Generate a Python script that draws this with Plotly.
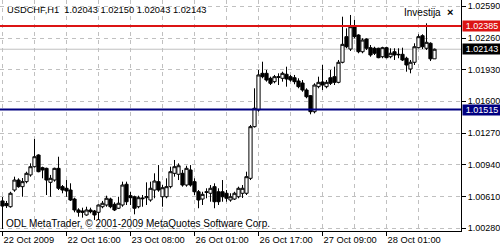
import plotly.graph_objects as go

# ---- data ----
open_ = [1.00562, 1.00536, 1.00502, 1.00676, 1.00780, 1.00711, 1.00763, 1.00833, 1.00919, 1.01041,
         1.00909, 1.00902, 1.00756, 1.00780, 1.00902, 1.00711, 1.00694, 1.00676, 1.00582, 1.00468,
         1.00457, 1.00416, 1.00468, 1.00457, 1.00444, 1.00502, 1.00520, 1.00582, 1.00527, 1.00486,
         1.00520, 1.00736, 1.00617, 1.00606, 1.00502, 1.00593, 1.00596, 1.00572, 1.00676, 1.00763,
         1.00606, 1.00606, 1.00711, 1.00850, 1.00840, 1.00850, 1.00728, 1.00885, 1.00763, 1.00658,
         1.00582, 1.00658, 1.00642, 1.00711, 1.00658, 1.00658, 1.00642, 1.00572, 1.00582, 1.00606,
         1.00642, 1.00642, 1.00798, 1.01336, 1.01510, 1.01892, 1.01892, 1.01840, 1.01805, 1.01857,
         1.01840, 1.01882, 1.01857, 1.01846, 1.01812, 1.01791, 1.01718, 1.01659, 1.01492, 1.01753,
         1.01802, 1.01753, 1.01846, 1.01857, 1.01798, 1.02007, 1.02274, 1.02145, 1.02388, 1.02291,
         1.02117, 1.02250, 1.02159, 1.02153, 1.02153, 1.02065, 1.02159, 1.02065, 1.02117, 1.02090,
         1.02090, 1.02049, 1.01937, 1.02007, 1.02159, 1.02284, 1.02153, 1.02205, 1.02043]
high = [1.00603, 1.00562, 1.00658, 1.00815, 1.00798, 1.00801, 1.00867, 1.00954, 1.01208, 1.01048,
        1.00919, 1.00909, 1.00833, 1.00909, 1.01023, 1.00728, 1.00780, 1.00746, 1.00596, 1.00486,
        1.00492, 1.00502, 1.00492, 1.00468, 1.00527, 1.00562, 1.00617, 1.00596, 1.00548, 1.00606,
        1.00763, 1.00763, 1.00658, 1.00617, 1.00617, 1.00624, 1.00756, 1.00763, 1.00850, 1.00936,
        1.00728, 1.00798, 1.00919, 1.00989, 1.00954, 1.00885, 1.00929, 1.00936, 1.00798, 1.00676,
        1.00658, 1.00694, 1.00728, 1.00746, 1.00694, 1.00780, 1.00676, 1.00642, 1.00658, 1.00711,
        1.00728, 1.00867, 1.01354, 1.01736, 1.01927, 1.02013, 1.01927, 1.01857, 1.01875, 1.01892,
        1.01909, 1.01961, 1.01875, 1.01875, 1.01840, 1.01822, 1.01736, 1.01666, 1.01788, 1.01857,
        1.01979, 1.01822, 1.01927, 1.01961, 1.02031, 1.02482, 1.02361, 1.02500, 1.02448, 1.02299,
        1.02257, 1.02257, 1.02187, 1.02169, 1.02159, 1.02169, 1.02169, 1.02153, 1.02153, 1.02153,
        1.02159, 1.02065, 1.02031, 1.02205, 1.02299, 1.02299, 1.02413, 1.02215, 1.02150]
low = [1.00270, 1.00489, 1.00492, 1.00658, 1.00700, 1.00606, 1.00746, 1.00815, 1.00909, 1.00861,
       1.00798, 1.00624, 1.00606, 1.00763, 1.00676, 1.00642, 1.00606, 1.00562, 1.00444, 1.00398,
       1.00388, 1.00408, 1.00433, 1.00364, 1.00364, 1.00486, 1.00502, 1.00486, 1.00457, 1.00478,
       1.00502, 1.00520, 1.00520, 1.00423, 1.00486, 1.00502, 1.00520, 1.00554, 1.00590, 1.00658,
       1.00502, 1.00590, 1.00694, 1.00815, 1.00780, 1.00711, 1.00711, 1.00711, 1.00624, 1.00486,
       1.00520, 1.00590, 1.00554, 1.00486, 1.00520, 1.00554, 1.00554, 1.00554, 1.00572, 1.00590,
       1.00593, 1.00624, 1.00780, 1.01327, 1.01492, 1.01840, 1.01805, 1.01770, 1.01788, 1.01770,
       1.01805, 1.01753, 1.01805, 1.01778, 1.01736, 1.01700, 1.01632, 1.01465, 1.01475, 1.01736,
       1.01718, 1.01736, 1.01770, 1.01770, 1.01788, 1.01996, 1.02153, 1.02125, 1.02257, 1.02101,
       1.02101, 1.02135, 1.02065, 1.02083, 1.02049, 1.02049, 1.02049, 1.02049, 1.02031, 1.02049,
       1.02020, 1.01909, 1.01892, 1.01979, 1.02153, 1.02145, 1.02135, 1.02020, 1.02043]
close = [1.00509, 1.00513, 1.00642, 1.00780, 1.00711, 1.00763, 1.00850, 1.00919, 1.01023, 1.00867,
         1.00885, 1.00780, 1.00798, 1.00902, 1.00694, 1.00676, 1.00666, 1.00572, 1.00468, 1.00444,
         1.00444, 1.00468, 1.00450, 1.00416, 1.00520, 1.00538, 1.00590, 1.00502, 1.00468, 1.00538,
         1.00728, 1.00554, 1.00596, 1.00486, 1.00596, 1.00586, 1.00606, 1.00694, 1.00770, 1.00676,
         1.00700, 1.00711, 1.00867, 1.00919, 1.00929, 1.00728, 1.00902, 1.00728, 1.00658, 1.00572,
         1.00631, 1.00652, 1.00694, 1.00554, 1.00554, 1.00606, 1.00590, 1.00606, 1.00642, 1.00694,
         1.00694, 1.00815, 1.01336, 1.01528, 1.01875, 1.01857, 1.01822, 1.01788, 1.01857, 1.01851,
         1.01892, 1.01833, 1.01822, 1.01805, 1.01753, 1.01718, 1.01648, 1.01492, 1.01770, 1.01798,
         1.01770, 1.01798, 1.01788, 1.01798, 1.02007, 1.02194, 1.02169, 1.02378, 1.02274, 1.02117,
         1.02239, 1.02153, 1.02083, 1.02101, 1.02055, 1.02159, 1.02055, 1.02101, 1.02083, 1.02086,
         1.02031, 1.01979, 1.02007, 1.02169, 1.02274, 1.02169, 1.02215, 1.02043, 1.02143]

tick_bars = [0, 16, 32, 48, 64, 80, 96]
tick_labels = ["22 Oct 2009", "22 Oct 16:00", "23 Oct 08:00", "26 Oct 01:00",
               "26 Oct 17:00", "27 Oct 09:00", "28 Oct 01:00"]
grid_bars = [8, 24, 40, 56, 72, 88, 104]
price_ticks = [1.00280, 1.00610, 1.00940, 1.01270, 1.01600, 1.01930, 1.02260, 1.02590]
resistance = 1.02385
support = 1.01515
symbol = "USDCHF,H1"

FONT = "Liberation Sans, Arial, sans-serif"
GRID = "#c0c0c0"
RED = "#dc1414"
NAVY = "#000080"

bars = list(range(len(close)))

fig = go.Figure(go.Candlestick(
    x=bars, open=open_, high=high, low=low, close=close,
    increasing=dict(line=dict(color="black", width=1), fillcolor="white"),
    decreasing=dict(line=dict(color="black", width=1), fillcolor="black"),
    whiskerwidth=0, hoverinfo="skip",
))

# horizontal levels
fig.add_hline(y=close[-1], line=dict(color=GRID, width=1), layer="below")
fig.add_hline(y=resistance, line=dict(color=RED, width=2), layer="above")
fig.add_hline(y=support, line=dict(color=NAVY, width=2), layer="above")

# right-hand price labels
for val, col in [(resistance, RED), (close[-1], "black"), (support, NAVY)]:
    fig.add_annotation(x=1, xref="paper", xanchor="left", xshift=1,
                       y=val, yref="y", yanchor="middle",
                       text=f"{val:.5f}", showarrow=False,
                       font=dict(family=FONT, size=9, color="white"),
                       bgcolor=col, width=38, height=10, borderpad=0)

header = f"{symbol}  {open_[-1]:.5f} {high[-1]:.5f} {low[-1]:.5f} {close[-1]:.5f}"
fig.add_annotation(x=0, xref="paper", xanchor="left", xshift=5,
                   y=1, yref="paper", yanchor="middle", yshift=-9.5,
                   text=header, showarrow=False,
                   font=dict(family=FONT, size=9.3, color="black"))
fig.add_annotation(x=0, xref="paper", xanchor="left", xshift=4,
                   y=0, yref="paper", yanchor="middle", yshift=7.5,
                   text="ODL MetaTrader, © 2001-2009 MetaQuotes Software Corp.",
                   showarrow=False, font=dict(family=FONT, size=10, color="black"))
fig.add_annotation(x=1, xref="paper", xanchor="right", xshift=-18,
                   y=1, yref="paper", yanchor="middle", yshift=-12,
                   text="Investija", showarrow=False,
                   font=dict(family=FONT, size=10, color="black"))
fig.add_annotation(x=1, xref="paper", xanchor="right", xshift=-6,
                   y=1, yref="paper", yanchor="middle", yshift=-12,
                   text="<b>×</b>", showarrow=False,
                   font=dict(family=FONT, size=11, color="black"))

fig.update_layout(
    width=500, height=250,
    margin=dict(l=0, r=39, t=0, b=19, pad=0),
    paper_bgcolor="white", plot_bgcolor="white",
    showlegend=False, boxgap=0.2, boxgroupgap=0,
    xaxis=dict(
        range=[-0.625, 114.625], rangeslider=dict(visible=False),
        tickmode="array", tickvals=tick_bars, ticktext=tick_labels,
        ticks="outside", ticklen=4, tickcolor="black",
        ticklabelposition="outside right",
        tickfont=dict(family=FONT, size=9.3, color="black"),
        showline=True, linecolor="black", linewidth=1,
        showgrid=True, gridcolor=GRID, griddash="4px,4px", gridwidth=1,
        minor=dict(tickvals=grid_bars, showgrid=True, gridcolor=GRID,
                   griddash="4px,4px", ticks=""),
        zeroline=False, fixedrange=True,
    ),
    yaxis=dict(
        side="right", range=[1.00249, 1.02656],
        tickmode="array", tickvals=price_ticks,
        ticktext=[f"{v:.5f}" for v in price_ticks],
        ticks="outside", ticklen=4, tickcolor="black",
        tickfont=dict(family=FONT, size=9, color="black"),
        showline=True, linecolor="black", linewidth=1,
        showgrid=True, gridcolor=GRID, griddash="4px,4px", gridwidth=1,
        zeroline=False, fixedrange=True,
    ),
)

fig.write_html("out.html")
